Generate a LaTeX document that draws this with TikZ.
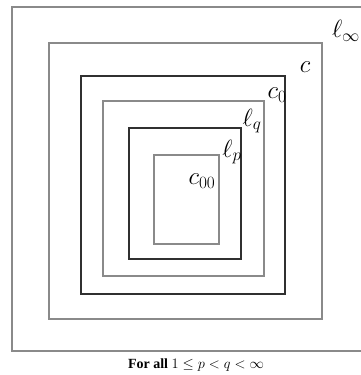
\documentclass[tikz,border=0pt]{standalone}
\usepackage{fontspec}
\setmainfont{Liberation Serif}
\usepackage{amssymb}
\definecolor{frame}{HTML}{8a8a8a}
\definecolor{ink}{HTML}{303030}

\begin{document}
\begin{tikzpicture}[x=1pt, y=-1pt,
  thin box/.style={draw=frame, line width=1.2pt},
  thick box/.style={draw=ink, line width=1.4pt},
  lbl/.style={font=\fontsize{23}{25}\selectfont, inner sep=0pt}
]
  \useasboundingbox (0,0) rectangle (361,375);
  % nested spaces, outside to inside
  \draw[thin box] (373,7) -- (12,7) -- (12,351) -- (373,351);
  \draw[thin box] (49,43) rectangle (322,319);
  \draw[thick box] (81,76) rectangle (285,294);
  \draw[thin box] (103,101) rectangle (264,276);
  \draw[thick box] (129,128) rectangle (241,259);
  \draw[thin box] (154,155) rectangle (219,244);
  % labels
  \node[lbl] (linf) at (346,31) {$\ell_\infty$};
  \node[lbl] (c) at (305,67) {$c$};
  \node[lbl] (c0) at (277,95) {$c_0$};
  \node[lbl] (lq) at (252,121) {$\ell_q$};
  \node[lbl] (lp) at (232,152) {$\ell_p$};
  \node[lbl] (c00) at (202,181) {$c_{00}$};
  \node[font=\fontsize{14}{16}\selectfont] (note) at (196,365) {\textbf{For all} $1\leq p<q<\infty$};
\end{tikzpicture}
\end{document}
